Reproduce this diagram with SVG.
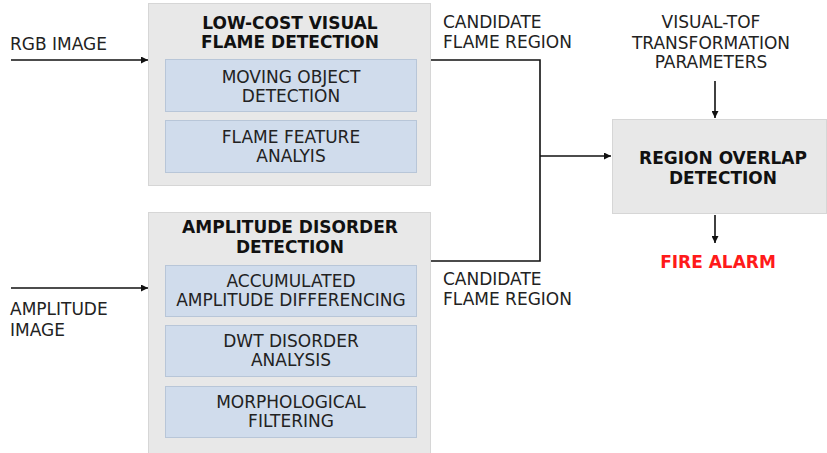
<svg xmlns="http://www.w3.org/2000/svg" width="827" height="453" viewBox="0 0 827 453">
<defs>
<marker id="ah" viewBox="0 0 10 10" refX="10" refY="5" markerWidth="7" markerHeight="7" markerUnits="userSpaceOnUse" orient="auto"><path d="M0,0 L10,5 L0,10 z" fill="#111"/></marker>
<style>
.outer{fill:#e8e8e8;stroke:#d6d6d6;stroke-width:1}
.inner{fill:#d0dcec;stroke:#b8c6d8;stroke-width:1}
text{font-family:"DejaVu Sans",Verdana,sans-serif;font-size:17px;fill:#222}
.t{text-anchor:middle}
.b{font-weight:bold;fill:#111}
.red{fill:#ff1a1a}
.ln{fill:none;stroke:#111;stroke-width:1.6}
</style>
</defs>
<rect width="827" height="453" fill="#fff"/>
<g id="visual">
<rect class="outer" x="148.5" y="3.5" width="282" height="182"/>
<text class="t b" x="290" y="29">LOW-COST VISUAL</text>
<text class="t b" x="290" y="48">FLAME DETECTION</text>
</g>
<g id="moving">
<rect class="inner" x="165.5" y="59.5" width="251" height="52"/>
<text class="t" x="291" y="83">MOVING OBJECT</text>
<text class="t" x="291" y="102">DETECTION</text>
</g>
<g id="feature">
<rect class="inner" x="165.5" y="120.5" width="251" height="52"/>
<text class="t" x="291" y="143">FLAME FEATURE</text>
<text class="t" x="291" y="162">ANALYIS</text>
</g>
<g id="amplitude">
<rect class="outer" x="148.5" y="212.5" width="282" height="242"/>
<text class="t b" x="290" y="233">AMPLITUDE DISORDER</text>
<text class="t b" x="290" y="253">DETECTION</text>
</g>
<g id="accum">
<rect class="inner" x="165.5" y="265.5" width="251" height="51"/>
<text class="t" x="291" y="287">ACCUMULATED</text>
<text class="t" x="291" y="306">AMPLITUDE DIFFERENCING</text>
</g>
<g id="dwt">
<rect class="inner" x="165.5" y="325.5" width="251" height="51"/>
<text class="t" x="291" y="347">DWT DISORDER</text>
<text class="t" x="291" y="366">ANALYSIS</text>
</g>
<g id="morph">
<rect class="inner" x="165.5" y="386.5" width="251" height="51"/>
<text class="t" x="291" y="408">MORPHOLOGICAL</text>
<text class="t" x="291" y="427">FILTERING</text>
</g>
<g id="overlap">
<rect class="outer" x="612.5" y="119.5" width="214" height="94"/>
<text class="t b" x="723" y="164">REGION OVERLAP</text>
<text class="t b" x="723" y="184">DETECTION</text>
</g>
<g id="labels">
<text x="10" y="50">RGB IMAGE</text>
<text x="10" y="315">AMPLITUDE</text>
<text x="10" y="336">IMAGE</text>
<text x="443" y="28">CANDIDATE</text>
<text x="443" y="48">FLAME REGION</text>
<text x="443" y="285">CANDIDATE</text>
<text x="443" y="305">FLAME REGION</text>
<text class="t" x="711" y="28">VISUAL-TOF</text>
<text class="t" x="711" y="49">TRANSFORMATION</text>
<text class="t" x="711" y="68">PARAMETERS</text>
<text class="t b red" x="718" y="268">FIRE ALARM</text>
</g>
<g id="connectors">
<path class="ln" d="M11,60 H148" marker-end="url(#ah)"/>
<path class="ln" d="M11,288 H148" marker-end="url(#ah)"/>
<path class="ln" d="M431,60 H540 V261 H431"/>
<path class="ln" d="M540,156 H611" marker-end="url(#ah)"/>
<path class="ln" d="M715,81 V118" marker-end="url(#ah)"/>
<path class="ln" d="M715,215 V243" marker-end="url(#ah)"/>
</g>
</svg>
